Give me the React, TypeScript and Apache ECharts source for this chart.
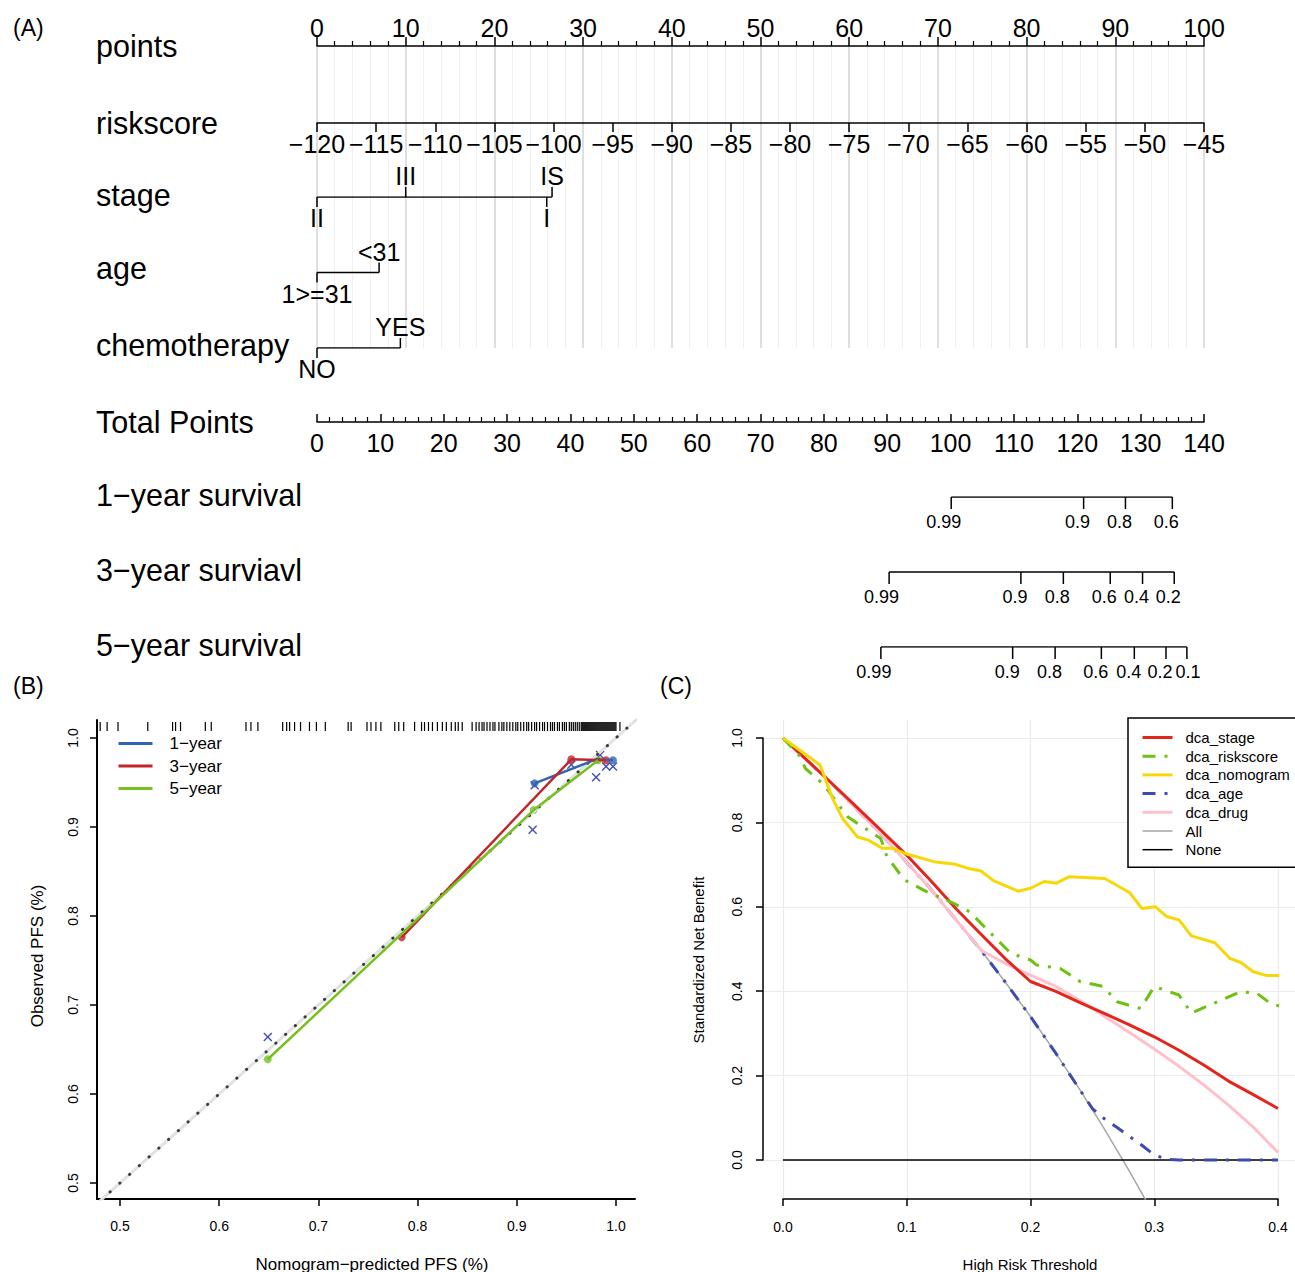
import React, { useEffect, useRef } from "react";
import * as echarts from "echarts";

const FONT = "'Liberation Sans', Arial, Helvetica, sans-serif";
const W = 1295;
const H = 1272;

// ---------------- Panel A: nomogram ----------------
const rowTitles = [
  "points",
  "riskscore",
  "stage",
  "age",
  "chemotherapy",
  "Total Points",
  "1\u2212year survival",
  "3\u2212year surviavl",
  "5\u2212year survival",
];
const rowTitleY = [46, 123, 195, 268, 345, 422, 495, 570, 645];

const stageLevels = ["II", "III", "I", "IS"];
const stagePoints = [0, 10, 25.9, 26.5];
const stageAbove = [false, true, false, true];

const ageLevels = ["1>=31", "<31"];
const agePoints = [0, 7.0];
const ageAbove = [false, true];

const chemoLevels = ["NO", "YES"];
const chemoPoints = [0, 9.4];
const chemoAbove = [false, true];

const surv1Labels = ["0.99", "0.9", "0.8", "0.6"];
const surv1Points = [100.1, 121.0, 127.6, 135.0];
const surv1Shift = [-7.5, -6, -6, -6];
const surv3Labels = ["0.99", "0.9", "0.8", "0.6", "0.4", "0.2"];
const surv3Points = [90.3, 111.1, 117.8, 125.2, 130.3, 135.3];
const surv3Shift = [-7.5, -6, -6, -6, -6, -6];
const surv5Labels = ["0.99", "0.9", "0.8", "0.6", "0.4", "0.2", "0.1"];
const surv5Points = [89.0, 109.8, 116.5, 123.8, 129.0, 134.0, 137.3];
const surv5Shift = [-7, -5.5, -5.5, -5.5, -5.5, -6, 1];

// ---------------- Panel B: calibration ----------------
const bTicks = [0.5, 0.6, 0.7, 0.8, 0.9, 1.0];
const cal1X = [0.918, 0.98, 0.997];
const cal1Y = [0.949, 0.976, 0.975];
const cal3X = [0.784, 0.955, 0.99];
const cal3Y = [0.776, 0.976, 0.975];
const cal5X = [0.649, 0.917, 0.982];
const cal5Y = [0.639, 0.919, 0.975];
const biasX = [0.649, 0.916, 0.918, 0.955, 0.98, 0.984, 0.99, 0.997];
const biasY = [0.664, 0.897, 0.947, 0.97, 0.956, 0.981, 0.968, 0.968];
const idealLine = [0.45, 1.05];
const dottedLine = [0.49, 1.012];
const rugValues = [
  0.48, 0.487, 0.498, 0.528, 0.553, 0.556, 0.561, 0.586, 0.592, 0.627, 0.632, 0.639, 0.664, 0.668,
  0.671, 0.676, 0.682, 0.691, 0.698, 0.707, 0.73, 0.733, 0.749, 0.753, 0.758, 0.763, 0.777, 0.781,
  0.786, 0.797, 0.804, 0.807, 0.811, 0.815, 0.82, 0.825, 0.829, 0.834, 0.838, 0.841, 0.845, 0.855,
  0.859, 0.862, 0.865, 0.867, 0.87, 0.873, 0.876, 0.878, 0.882, 0.885, 0.887, 0.89, 0.893, 0.896,
  0.899, 0.901, 0.904, 0.907, 0.91, 0.912, 0.915, 0.918, 0.92, 0.923, 0.926, 0.928, 0.931, 0.934,
  0.936, 0.938, 0.941, 0.943, 0.946, 0.948, 0.95, 0.953, 0.955, 0.957, 0.959, 0.961, 0.963, 0.965,
  0.966, 0.967, 0.968, 0.969, 0.97, 0.971, 0.972, 0.973, 0.974, 0.975, 0.976, 0.977, 0.978, 0.979,
  0.98, 0.981, 0.982, 0.983, 0.984, 0.985, 0.986, 0.987, 0.988, 0.989, 0.99, 0.991, 0.992, 0.993,
  0.994, 0.995, 0.996, 0.997, 0.998, 0.999, 1.0, 1.004,
];

// ---------------- Panel C: decision curves ----------------
const stageX = [0, 0.02, 0.04, 0.06, 0.08, 0.1, 0.12, 0.14, 0.16, 0.18, 0.2, 0.22, 0.24, 0.26, 0.28, 0.3, 0.32, 0.34, 0.36, 0.38, 0.4];
const stageY = [1.0, 0.946, 0.891, 0.835, 0.779, 0.722, 0.66, 0.595, 0.535, 0.476, 0.423, 0.4, 0.373, 0.347, 0.32, 0.292, 0.26, 0.225, 0.187, 0.155, 0.122];
const riskX = [0, 0.014, 0.018, 0.033, 0.052, 0.06, 0.079, 0.084, 0.098, 0.116, 0.138, 0.151, 0.168, 0.184, 0.2, 0.205, 0.224, 0.24, 0.259, 0.27, 0.289, 0.3, 0.32, 0.33, 0.351, 0.37, 0.383, 0.394, 0.401];
const riskY = [1.0, 0.956, 0.928, 0.889, 0.814, 0.798, 0.762, 0.719, 0.664, 0.636, 0.608, 0.588, 0.537, 0.49, 0.474, 0.462, 0.454, 0.423, 0.411, 0.375, 0.359, 0.411, 0.391, 0.348, 0.375, 0.399, 0.395, 0.371, 0.365];
const nomoX = [0, 0.03, 0.04, 0.048, 0.06, 0.069, 0.08, 0.088, 0.1, 0.122, 0.139, 0.151, 0.16, 0.17, 0.19, 0.2, 0.211, 0.221, 0.231, 0.26, 0.28, 0.29, 0.301, 0.31, 0.32, 0.33, 0.349, 0.361, 0.37, 0.38, 0.391, 0.401];
const nomoY = [1.0, 0.936, 0.857, 0.81, 0.766, 0.758, 0.739, 0.739, 0.725, 0.707, 0.701, 0.69, 0.685, 0.662, 0.637, 0.644, 0.66, 0.656, 0.671, 0.667, 0.634, 0.596, 0.6, 0.577, 0.569, 0.531, 0.515, 0.478, 0.468, 0.446, 0.437, 0.437];
const ageX = [0, 0.04, 0.08, 0.12, 0.16, 0.18, 0.2, 0.22, 0.24, 0.25, 0.26, 0.27, 0.28, 0.29, 0.3, 0.31, 0.32, 0.34, 0.36, 0.38, 0.4];
const ageY = [1.0, 0.89, 0.77, 0.64, 0.497, 0.42, 0.34, 0.255, 0.166, 0.122, 0.097, 0.077, 0.056, 0.035, 0.012, 0.002, 0, 0, 0, 0, 0];
const drugX = [0, 0.04, 0.08, 0.12, 0.16, 0.18, 0.2, 0.22, 0.24, 0.26, 0.28, 0.3, 0.32, 0.34, 0.36, 0.38, 0.4];
const drugY = [1.0, 0.89, 0.77, 0.64, 0.497, 0.465, 0.438, 0.412, 0.378, 0.34, 0.302, 0.263, 0.222, 0.178, 0.13, 0.078, 0.018];
const allX = [0, 0.02, 0.04, 0.06, 0.08, 0.1, 0.12, 0.14, 0.16, 0.18, 0.2, 0.22, 0.24, 0.26, 0.28, 0.3];
const allY = [1.0, 0.946, 0.89, 0.831, 0.77, 0.707, 0.64, 0.57, 0.497, 0.42, 0.34, 0.255, 0.166, 0.072, -0.027, -0.131];
const noneX = [0, 0.4];
const noneY = [0, 0];
const cXTicks = { min: 0, max: 0.4, interval: 0.1 };
const cYTicks = { min: 0, max: 1, interval: 0.2 };

const zip = (xs: number[], ys: number[]) => xs.map((x, i) => [x, ys[i]]);

type Item = { label: string; x: number; row: number; above: boolean; dx: number };
type Row = { levels: string[]; pts: number[]; above: boolean[]; shift?: number[] };

const factorRows: Row[] = [
  { levels: stageLevels, pts: stagePoints, above: stageAbove },
  { levels: ageLevels, pts: agePoints, above: ageAbove },
  { levels: chemoLevels, pts: chemoPoints, above: chemoAbove },
];
const survRows: Row[] = [
  { levels: surv1Labels, pts: surv1Points, above: surv1Labels.map(() => false), shift: surv1Shift },
  { levels: surv3Labels, pts: surv3Points, above: surv3Labels.map(() => false), shift: surv3Shift },
  { levels: surv5Labels, pts: surv5Points, above: surv5Labels.map(() => false), shift: surv5Shift },
];
const flatten = (rows: Row[]): Item[] =>
  rows.flatMap((r, ri) =>
    r.levels.map((l, i) => ({ label: l, x: r.pts[i], row: ri, above: r.above[i], dx: r.shift ? r.shift[i] : 0 }))
  );
const factorItems = flatten(factorRows);
const survItems = flatten(survRows);

function tickRenderer(items: Item[], tickLen: number, labelOff: number, fontSize: number) {
  return (params: any, api: any) => {
    const it = items[params.dataIndex];
    const p = api.coord([api.value(0), api.value(1)]);
    const d = it.above ? -1 : 1;
    return {
      type: "group",
      children: [
        { type: "line", shape: { x1: p[0], y1: p[1], x2: p[0], y2: p[1] + d * tickLen }, style: { stroke: "#000", lineWidth: 1.5 } },
        {
          type: "text",
          x: p[0] + it.dx,
          y: p[1] + d * labelOff,
          style: { text: it.label, fill: "#000", fontSize, fontFamily: FONT, align: "center", verticalAlign: "middle", textAlign: "center", textVerticalAlign: "middle" },
        },
      ],
    };
  };
}

const B_BLUE = "#2F65B2";
const B_RED = "#C0272D";
const B_GREEN = "#76C11F";
const X_COL = "#4150B4";

const C_RED = "#E3261C";
const C_GREEN = "#6DC111";
const C_YELLOW = "#F7D708";
const C_BLUE = "#3D4BAE";
const C_PINK = "#FFC0CB";
const C_GRAY = "#A6A6A6";

const txt = (text: string, x: number, y: number, fontSize: number, align = "left", rotation = 0) => ({
  type: "text",
  x,
  y,
  rotation,
  style: {
    text,
    fill: "#000",
    fontSize,
    fontFamily: FONT,
    align,
    verticalAlign: "middle",
    textAlign: align,
    textVerticalAlign: "middle",
  },
});

function buildOption(): any {
  const axisBlack = { color: "#000", width: 1.5 };
  const hidden = (gridIndex: number, min: number, max: number) => ({ gridIndex, type: "value", show: false, min, max });

  const bXMin = 0.4768, bXMax = 1.0192, bYMin = 0.482, bYMax = 1.0202;
  const cXMin = -0.01616, cXMax = 0.41374, cYMin = -0.0924, cYMax = 1.0427;

  const xAxis = [
    {
      gridIndex: 0, type: "value", position: "top", min: 0, max: 100, interval: 10,
      axisLine: { show: true, onZero: false, lineStyle: axisBlack },
      axisTick: { show: true, length: 9, lineStyle: axisBlack },
      minorTick: { show: true, splitNumber: 5, length: 5, lineStyle: { color: "#000", width: 1.2 } },
      axisLabel: { fontSize: 25, color: "#000", margin: 6, fontFamily: FONT },
      splitLine: { show: true, lineStyle: { color: "#d4d4d4", width: 1.5 } },
      minorSplitLine: { show: true, lineStyle: { color: "#f0f0f0", width: 1 } },
    },
    {
      gridIndex: 1, type: "value", position: "bottom", min: -120, max: -45, interval: 5,
      axisLine: { show: true, onZero: false, lineStyle: axisBlack },
      axisTick: { show: true, length: 9, lineStyle: axisBlack },
      axisLabel: { fontSize: 25, color: "#000", margin: 8, fontFamily: FONT, formatter: (v: number) => String(v).replace("-", "\u2212") },
      splitLine: { show: false },
    },
    {
      gridIndex: 2, type: "value", position: "bottom", min: 0, max: 140, interval: 10,
      axisLine: { show: true, onZero: false, lineStyle: axisBlack },
      axisTick: { show: true, inside: true, length: 8, lineStyle: axisBlack },
      minorTick: { show: true, splitNumber: 5, length: 5, lineStyle: { color: "#000", width: 1.2 } },
      axisLabel: { fontSize: 25, color: "#000", margin: 8, fontFamily: FONT },
      splitLine: { show: false },
    },
    hidden(3, 0, 100),
    hidden(4, 0, 140),
    {
      gridIndex: 5, type: "value", min: bXMin, max: bXMax,
      axisLine: { show: true, onZero: false, lineStyle: { color: "#000", width: 2 } },
      axisTick: { show: true, length: 7, customValues: bTicks, lineStyle: { color: "#000", width: 1.5 } },
      axisLabel: { show: true, customValues: bTicks, fontSize: 14, color: "#000", margin: 20, fontFamily: FONT, formatter: (v: number) => v.toFixed(1) },
      splitLine: { show: false },
    },
    hidden(6, cXMin, cXMax),
    {
      gridIndex: 7, type: "value", min: cXTicks.min, max: cXTicks.max, interval: cXTicks.interval,
      axisLine: { show: true, onZero: false, lineStyle: { color: "#000", width: 1.5 } },
      axisTick: { show: true, length: 7, lineStyle: { color: "#000", width: 1.5 } },
      axisLabel: { fontSize: 14, color: "#000", margin: 21, fontFamily: FONT, formatter: (v: number) => v.toFixed(1) },
      splitLine: { show: true, lineStyle: { color: "#ebebeb", width: 1.2 } },
    },
    hidden(8, 0, 1),
  ];

  const yAxis = [
    hidden(0, 0, 1),
    hidden(1, 0, 1),
    hidden(2, 0, 1),
    { ...hidden(3, 0, 2), inverse: true },
    { ...hidden(4, 0, 2), inverse: true },
    {
      gridIndex: 5, type: "value", min: bYMin, max: bYMax,
      axisLine: { show: true, onZero: false, lineStyle: { color: "#000", width: 2 } },
      axisTick: { show: true, length: 7, customValues: bTicks, lineStyle: { color: "#000", width: 1.5 } },
      axisLabel: { show: true, customValues: bTicks, fontSize: 14, color: "#000", margin: 17, rotate: 90, fontFamily: FONT, formatter: (v: number) => v.toFixed(1) },
      splitLine: { show: false },
    },
    hidden(6, cYMin, cYMax),
    hidden(7, 0, 1),
    {
      gridIndex: 8, type: "value", min: cYTicks.min, max: cYTicks.max, interval: cYTicks.interval,
      axisLine: { show: true, onZero: false, lineStyle: { color: "#000", width: 1.5 } },
      axisTick: { show: true, length: 7, lineStyle: { color: "#000", width: 1.5 } },
      axisLabel: { fontSize: 14, color: "#000", margin: 19, rotate: 90, fontFamily: FONT, formatter: (v: number) => v.toFixed(1) },
      splitLine: { show: true, lineStyle: { color: "#ebebeb", width: 1.2 } },
    },
  ];

  const series: any[] = [];

  // Panel A factor rows
  factorRows.forEach((r, ri) => {
    series.push({
      type: "line", xAxisIndex: 3, yAxisIndex: 3, silent: true, symbol: "none",
      data: [[Math.min(...r.pts), ri], [Math.max(...r.pts), ri]],
      lineStyle: { color: "#000", width: 1.5 },
    });
  });
  series.push({
    type: "custom", xAxisIndex: 3, yAxisIndex: 3, silent: true, clip: false,
    data: factorItems.map((it) => [it.x, it.row]),
    renderItem: tickRenderer(factorItems, 10, 21, 25),
  });
  survRows.forEach((r, ri) => {
    series.push({
      type: "line", xAxisIndex: 4, yAxisIndex: 4, silent: true, symbol: "none",
      data: [[Math.min(...r.pts), ri], [Math.max(...r.pts), ri]],
      lineStyle: { color: "#000", width: 1.5 },
    });
  });
  series.push({
    type: "custom", xAxisIndex: 4, yAxisIndex: 4, silent: true, clip: false,
    data: survItems.map((it) => [it.x, it.row]),
    renderItem: tickRenderer(survItems, 12, 25, 18),
  });

  // Panel B
  series.push({
    type: "line", xAxisIndex: 5, yAxisIndex: 5, silent: true, symbol: "none", clip: true,
    data: zip(idealLine, idealLine), lineStyle: { color: "#e2e2e2", width: 3 },
  });
  series.push({
    type: "line", xAxisIndex: 5, yAxisIndex: 5, silent: true, symbol: "none", clip: false,
    data: zip(dottedLine, dottedLine), lineStyle: { color: "#3a3a3a", width: 3, type: [0.1, 13], cap: "round" },
  });
  series.push({
    type: "custom", xAxisIndex: 5, yAxisIndex: 5, silent: true, clip: false,
    data: rugValues.map((v) => [v, bYMax]),
    renderItem: (params: any, api: any) => {
      const p = api.coord([api.value(0), api.value(1)]);
      return { type: "line", shape: { x1: p[0], y1: p[1] + 2, x2: p[0], y2: p[1] + 11 }, style: { stroke: "#000", lineWidth: 1.2 } };
    },
  });
  const calSeries = [
    { name: "1\u2212year", xs: cal1X, ys: cal1Y, color: B_BLUE },
    { name: "3\u2212year", xs: cal3X, ys: cal3Y, color: B_RED },
    { name: "5\u2212year", xs: cal5X, ys: cal5Y, color: B_GREEN },
  ];
  calSeries.forEach((s) => {
    series.push({
      name: s.name, type: "line", xAxisIndex: 5, yAxisIndex: 5, symbol: "none", silent: true,
      data: zip(s.xs, s.ys), lineStyle: { color: s.color, width: 2.5 }, itemStyle: { color: s.color },
    });
  });
  calSeries.forEach((s) => {
    series.push({
      name: s.name + " pts", type: "scatter", xAxisIndex: 5, yAxisIndex: 5, silent: true,
      symbol: "circle", symbolSize: 8, data: zip(s.xs, s.ys), itemStyle: { color: s.color },
    });
  });
  series.push({
    type: "custom", xAxisIndex: 5, yAxisIndex: 5, silent: true, clip: false,
    data: zip(biasX, biasY),
    renderItem: (params: any, api: any) => {
      const p = api.coord([api.value(0), api.value(1)]);
      const s = 4;
      return {
        type: "group",
        children: [
          { type: "line", shape: { x1: p[0] - s, y1: p[1] - s, x2: p[0] + s, y2: p[1] + s }, style: { stroke: X_COL, lineWidth: 1.4 } },
          { type: "line", shape: { x1: p[0] - s, y1: p[1] + s, x2: p[0] + s, y2: p[1] - s }, style: { stroke: X_COL, lineWidth: 1.4 } },
        ],
      };
    },
  });

  // Panel C
  const dotdash = [13, 9, 3, 9];
  const cSeries = [
    { name: "All", xs: allX, ys: allY, color: C_GRAY, width: 1.5, type: "solid" as any },
    { name: "None", xs: noneX, ys: noneY, color: "#000", width: 1.5, type: "solid" as any },
    { name: "dca_age", xs: ageX, ys: ageY, color: C_BLUE, width: 3, type: dotdash as any },
    { name: "dca_drug", xs: drugX, ys: drugY, color: C_PINK, width: 3, type: "solid" as any },
    { name: "dca_stage", xs: stageX, ys: stageY, color: C_RED, width: 3, type: "solid" as any },
    { name: "dca_riskscore", xs: riskX, ys: riskY, color: C_GREEN, width: 3, type: dotdash as any },
    { name: "dca_nomogram", xs: nomoX, ys: nomoY, color: C_YELLOW, width: 3, type: "solid" as any },
  ];
  cSeries.forEach((s) => {
    series.push({
      name: s.name, type: "line", xAxisIndex: 6, yAxisIndex: 6, symbol: "none", silent: true, clip: true,
      data: zip(s.xs, s.ys), lineStyle: { color: s.color, width: s.width, type: s.type }, itemStyle: { color: s.color },
    });
  });
  const cLegendOrder = ["dca_stage", "dca_riskscore", "dca_nomogram", "dca_age", "dca_drug", "All", "None"];
  const cLegendData = cLegendOrder.map((n) => {
    const s = cSeries.find((c) => c.name === n)!;
    return { name: n, lineStyle: { width: s.width, color: s.color, type: s.type } };
  });

  const graphic: any[] = [];
  rowTitles.forEach((t, i) => graphic.push(txt(t, 96, rowTitleY[i], 30.5)));
  graphic.push(txt("(A)", 13, 28, 23));
  graphic.push(txt("(B)", 13, 686, 23));
  graphic.push(txt("(C)", 660, 686, 23));
  graphic.push(txt("Nomogram\u2212predicted PFS (%)", 372, 1264, 17, "center"));
  graphic.push(txt("Observed PFS (%)", 37, 956, 17, "center", Math.PI / 2));
  graphic.push(txt("High Risk Threshold", 1030, 1264, 15, "center"));
  graphic.push(txt("Standardized Net Benefit", 698, 960, 15, "center", Math.PI / 2));

  return {
    animation: false,
    backgroundColor: "#fff",
    textStyle: { fontFamily: FONT, color: "#000" },
    grid: [
      { left: 317, top: 46, width: 887, height: 302 },
      { left: 317, top: 113, width: 887, height: 10 },
      { left: 317, top: 412, width: 887, height: 10 },
      { left: 317, top: 197, width: 887, height: 151 },
      { left: 317, top: 497, width: 887, height: 150 },
      { left: 97, top: 720, width: 538, height: 479 },
      { left: 763, top: 720, width: 532, height: 479 },
      { left: 783, top: 720, width: 495, height: 479 },
      { left: 763, top: 738, width: 532, height: 422 },
    ],
    xAxis,
    yAxis,
    legend: [
      {
        data: calSeries.map((s) => s.name),
        orient: "vertical", left: 117, top: 735, padding: 0,
        itemWidth: 34, itemHeight: 10, itemGap: 5.5,
        selectedMode: false,
        itemStyle: { opacity: 0 },
        lineStyle: { width: 3 },
        textStyle: { fontSize: 17, color: "#000", fontFamily: FONT, padding: [0, 0, 0, 12] },
      },
      {
        data: cLegendData,
        orient: "vertical", left: 1128, top: 718, padding: [12, 40, 10, 13],
        itemWidth: 30, itemHeight: 12, itemGap: 3.7,
        selectedMode: false,
        itemStyle: { opacity: 0 },
        borderColor: "#000", borderWidth: 1.5, backgroundColor: "#fff", borderRadius: 0,
        textStyle: { fontSize: 15, color: "#000", fontFamily: FONT, padding: [0, 0, 0, 8] },
      },
    ],
    series,
    graphic,
  };
}

export default function App() {
  const ref = useRef<HTMLDivElement>(null);
  useEffect(() => {
    if (!ref.current) return;
    const chart = echarts.init(ref.current, null, { renderer: "svg", width: W, height: H });
    chart.setOption(buildOption());
    return () => chart.dispose();
  }, []);
  return <div ref={ref} style={{ position: "absolute", left: 0, top: 0, width: W, height: H, background: "#fff" }} />;
}
